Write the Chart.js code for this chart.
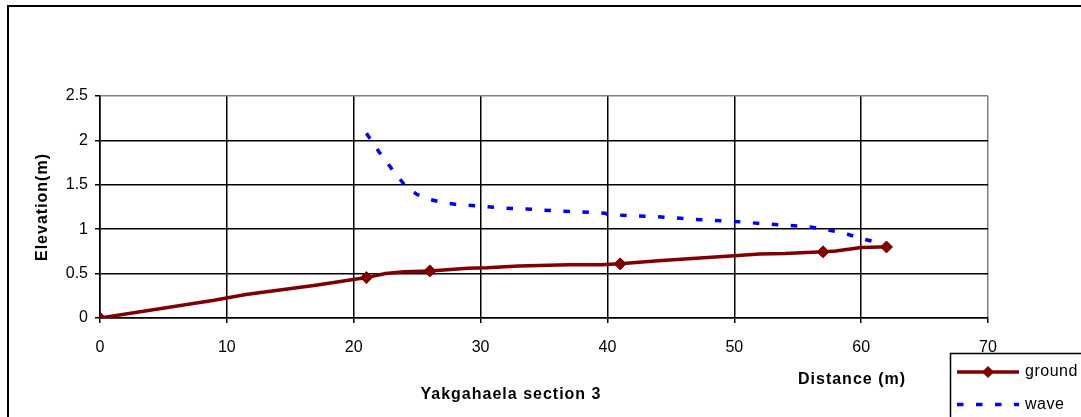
<!DOCTYPE html>
<html><head><meta charset="utf-8">
<script src="https://cdn.jsdelivr.net/npm/chart.js@4.4.1/dist/chart.umd.min.js"></script>
<style>html,body{margin:0;padding:0;background:#fff;overflow:hidden}canvas{display:block}</style>
</head><body>
<canvas id="c" width="1081" height="417"></canvas>
<script>
// ---- data ----
const seriesNames = ['ground', 'wave'];
const groundX = [0, 9, 11.5, 17, 21, 22.5, 24, 26, 29, 30.5, 33, 37, 39.5, 41, 44, 50, 52, 54, 57, 58, 60, 61.5, 62];
const groundY = [0, 0.20, 0.265, 0.37, 0.455, 0.50, 0.52, 0.53, 0.56, 0.565, 0.585, 0.60, 0.60, 0.61, 0.645, 0.70, 0.72, 0.725, 0.745, 0.755, 0.795, 0.80, 0.80];
const groundMarkerX = [0, 21, 26, 41, 57, 62];
const waveX = [21, 22, 23, 24, 25, 26, 27, 28, 30, 32, 34, 36, 38, 39.8, 40, 42, 44, 46, 48, 50, 52, 54, 56, 57, 58, 59, 60, 61, 62];
const waveY = [2.08, 1.87, 1.68, 1.50, 1.39, 1.335, 1.30, 1.28, 1.26, 1.235, 1.225, 1.205, 1.195, 1.18, 1.167, 1.15, 1.14, 1.12, 1.10, 1.088, 1.065, 1.045, 1.025, 1.00, 0.975, 0.94, 0.895, 0.86, 0.81];
const xTickLabels = ['0', '10', '20', '30', '40', '50', '60', '70'];
const yTickLabels = ['0', '0.5', '1', '1.5', '2', '2.5'];
const chartTitle = 'Yakgahaela section 3';
const xAxisTitle = 'Distance (m)';
const yAxisTitle = 'Elevation(m)';

const FONT = '"Liberation Sans", Arial, sans-serif';
const groundPoints = groundX.map((x, i) => ({x, y: groundY[i]}));
const wavePoints = waveX.map((x, i) => ({x, y: waveY[i]}));

const decor = {
  id: 'decor',
  beforeDraw(chart) {
    const ctx = chart.ctx;
    ctx.save();
    ctx.fillStyle = '#fff';
    ctx.fillRect(0, 0, chart.width, chart.height);
    ctx.restore();
  },
  afterDraw(chart) {
    const ctx = chart.ctx, a = chart.chartArea;
    ctx.save();
    // outer frame
    ctx.strokeStyle = '#000';
    ctx.lineWidth = 2;
    ctx.strokeRect(8, 6, 1300, 700);
    // titles
    ctx.fillStyle = '#000';
    ctx.font = 'bold 16px ' + FONT;
    ctx.letterSpacing = '1px';
    ctx.textAlign = 'center';
    ctx.textBaseline = 'middle';
    ctx.fillText(chartTitle, 511, 395);
    ctx.fillText(xAxisTitle, 852, 380);
    ctx.save();
    ctx.translate(43, (a.top + a.bottom) / 2);
    ctx.rotate(-Math.PI / 2);
    ctx.fillText(yAxisTitle, 0, 0);
    ctx.restore();
    // legend
    ctx.letterSpacing = '0.5px';
    ctx.strokeStyle = '#000';
    ctx.lineWidth = 1.5;
    ctx.strokeRect(950.5, 353.5, 300, 200);
    ctx.font = '16px ' + FONT;
    ctx.textAlign = 'left';
    chart.data.datasets.forEach((ds, i) => {
      const y = 372 + i * 32.5;
      ctx.save();
      ctx.strokeStyle = ds.borderColor;
      ctx.lineWidth = ds.borderWidth;
      ctx.setLineDash(ds.borderDash || []);
      ctx.beginPath();
      ctx.moveTo(957, y);
      ctx.lineTo(1019, y);
      ctx.stroke();
      ctx.restore();
      if (ds.legendMarker) {
        ctx.save();
        ctx.fillStyle = ds.borderColor;
        ctx.beginPath();
        const r = 6;
        ctx.moveTo(988 - r, y); ctx.lineTo(988, y - r); ctx.lineTo(988 + r, y); ctx.lineTo(988, y + r);
        ctx.closePath();
        ctx.fill();
        ctx.restore();
      }
      ctx.fillStyle = '#000';
      ctx.fillText(ds.label, 1025, y);
    });
    ctx.restore();
  }
};

new Chart(document.getElementById('c'), {
  type: 'line',
  data: {
    datasets: [
      {
        label: seriesNames[0],
        data: groundPoints,
        borderColor: '#800000',
        backgroundColor: '#800000',
        borderWidth: 3.5,
        pointStyle: 'rectRot',
        pointRadius: groundX.map(x => groundMarkerX.includes(x) ? 6 : 0),
        pointBorderWidth: 1,
        pointBorderColor: '#800000',
        pointBackgroundColor: '#800000',
        tension: 0,
        legendMarker: true
      },
      {
        label: seriesNames[1],
        data: wavePoints,
        borderColor: '#0000ff',
        backgroundColor: '#0000ff',
        borderWidth: 3.5,
        borderDash: [6.5, 12.5],
        pointRadius: 0,
        tension: 0
      }
    ]
  },
  options: {
    responsive: false,
    animation: false,
    devicePixelRatio: 1,
    layout: {padding: {top: 96, right: 93, left: 0, bottom: 0}},
    plugins: {legend: {display: false}, title: {display: false}, tooltip: {enabled: false}},
    scales: {
      x: {
        type: 'linear',
        min: 0, max: 70,
        afterFit: s => { s.height = 99; },
        ticks: {stepSize: 10, padding: 15, color: '#000', font: {family: FONT, size: 16},
          callback: (v, i) => xTickLabels[i]},
        grid: {color: c => c.tick && c.tick.value === 70 ? '#808080' : '#000', lineWidth: 1.5, tickLength: 5, tickColor: '#000'},
        border: {color: '#000', width: 1.5}
      },
      y: {
        min: 0, max: 2.5,
        afterFit: s => { s.width = 100; },
        ticks: {stepSize: 0.5, padding: 7, color: '#000', font: {family: FONT, size: 16},
          callback: (v, i) => yTickLabels[i]},
        grid: {color: c => c.tick && c.tick.value === 2.5 ? '#808080' : '#000', lineWidth: 1.5, tickLength: 5, tickColor: '#000'},
        border: {color: '#000', width: 1.5}
      }
    }
  },
  plugins: [decor]
});
</script>
</body></html>
